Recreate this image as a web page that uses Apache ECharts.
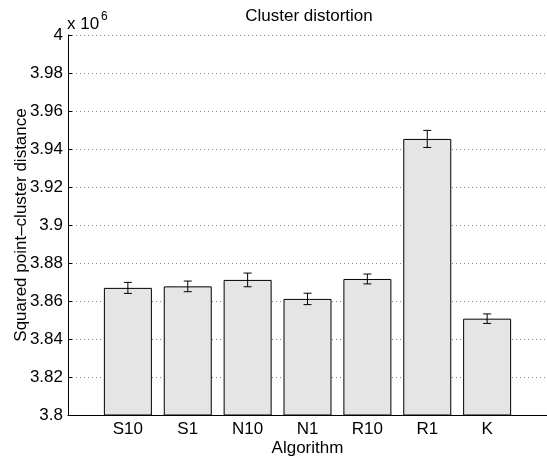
<!DOCTYPE html>
<html>
<head>
<meta charset="utf-8">
<script src="https://cdn.jsdelivr.net/npm/echarts@6/dist/echarts.min.js"></script>
<style>
html, body { margin: 0; padding: 0; background: #fff; }
#myChart { width: 547px; height: 456px; }
</style>
</head>
<body>
<div id="myChart"></div>
<script type="text/javascript">
// data, in units of 10^6
var categories = ['S10', 'S1', 'N10', 'N1', 'R10', 'R1', 'K'];
var distortion = [3.8669, 3.8677, 3.8711, 3.8611, 3.8716, 3.9453, 3.8507];
var errors = [0.0029, 0.0028, 0.0036, 0.0030, 0.0026, 0.0045, 0.0025];
var yTicks = [3.8, 3.82, 3.84, 3.86, 3.88, 3.9, 3.92, 3.94, 3.96, 3.98, 4];

var font = "'Liberation Sans', Arial, Helvetica, sans-serif";

var barData = categories.map(function (c, i) { return [i + 1, distortion[i]]; });
var errData = categories.map(function (c, i) { return [i + 1, distortion[i] - errors[i], distortion[i] + errors[i]]; });

var option = {
	animation: false,
	backgroundColor: '#fff',
	textStyle: { fontFamily: font },
	grid: { left: 68, right: 0, top: 35, bottom: 41, outerBoundsMode: 'none', containLabel: false },
	graphic: [
		{ type: 'text', x: 309, y: 16, style: { text: 'Cluster distortion', font: '17px ' + font, fill: '#000', textAlign: 'center', textVerticalAlign: 'middle' } },
		{ type: 'text', x: 67, y: 24, style: { text: 'x 10', font: '17px ' + font, fill: '#000', textAlign: 'left', textVerticalAlign: 'middle' } },
		{ type: 'text', x: 101, y: 17, style: { text: '6', font: '12px ' + font, fill: '#000', textAlign: 'left', textVerticalAlign: 'middle' } }
	],
	xAxis: {
		type: 'value',
		min: 0,
		max: 8,
		interval: 1,
		name: 'Algorithm',
		nameLocation: 'middle',
		nameGap: 25,
		nameMoveOverlap: false,
		nameTextStyle: { fontSize: 17, color: '#000', fontFamily: font },
		axisLine: { show: true, onZero: false, lineStyle: { color: '#000', width: 1 } },
		axisTick: { show: false },
		splitLine: { show: false },
		axisLabel: {
			fontSize: 17, color: '#000', margin: 6, fontFamily: font,
			formatter: function (v) { return categories[v - 1] || ''; }
		}
	},
	yAxis: {
		type: 'value',
		min: 3.8,
		max: 4,
		interval: 0.02,
		name: 'Squared point\u2013cluster distance',
		nameLocation: 'middle',
		nameGap: 38,
		nameMoveOverlap: false,
		nameTextStyle: { fontSize: 17, color: '#000', fontFamily: font },
		axisLine: { show: true, onZero: false, lineStyle: { color: '#000', width: 1 } },
		axisTick: { show: true, inside: true, length: 4, lineStyle: { color: '#000' } },
		splitLine: { show: true, lineStyle: { color: '#888', type: [1, 3], width: 1 } },
		axisLabel: {
			fontSize: 17, color: '#000', margin: 5, fontFamily: font,
			formatter: function (v) {
				for (var i = 0; i < yTicks.length; i++) {
					if (Math.abs(yTicks[i] - v) < 1e-9) return String(yTicks[i]);
				}
				return '';
			}
		}
	},
	series: [
		{
			type: 'bar',
			data: barData,
			barWidth: 48,
			itemStyle: { color: '#e5e5e5', borderColor: '#000', borderWidth: 1 }
		},
		{
			type: 'custom',
			data: errData,
			z: 5,
			renderItem: function (params, api) {
				var x = api.value(0);
				var lo = api.coord([x, api.value(1)]);
				var hi = api.coord([x, api.value(2)]);
				var hw = 4;
				var st = { stroke: '#000', lineWidth: 1 };
				return {
					type: 'group',
					children: [
						{ type: 'line', shape: { x1: lo[0], y1: lo[1], x2: hi[0], y2: hi[1] }, style: st },
						{ type: 'line', shape: { x1: lo[0] - hw, y1: lo[1], x2: lo[0] + hw, y2: lo[1] }, style: st },
						{ type: 'line', shape: { x1: hi[0] - hw, y1: hi[1], x2: hi[0] + hw, y2: hi[1] }, style: st }
					]
				};
			}
		}
	]
};
echarts.init(document.getElementById('myChart')).setOption(option);
</script>
</body>
</html>
